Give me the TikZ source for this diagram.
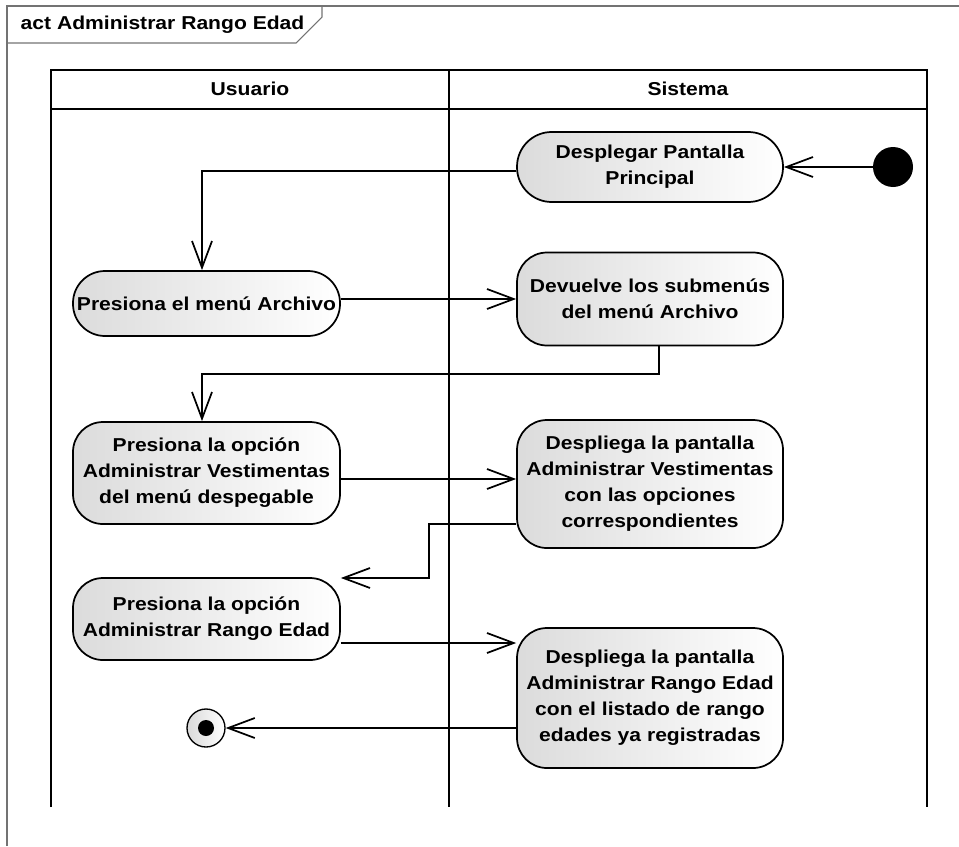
\documentclass[tikz,border=0pt]{standalone}
\usepackage{fontspec}
\setmainfont{Liberation Sans}[FakeStretch=1.13]
\usetikzlibrary{arrows.meta,calc}
\begin{document}
\begin{tikzpicture}[x=0.75pt,y=-0.75pt,
  every node/.style={font=\fontsize{14}{19.5}\selectfont\bfseries},
  act/.style={draw=black, line width=1.3pt, left color=black!14, right color=white, align=center, inner sep=0pt},
  lbox/.style={act, minimum width=200.25pt},
  rbox/.style={act, minimum width=199.5pt},
  flow/.style={draw=black, line width=1.3pt, -{Straight Barb[length=20pt,width=15pt,line width=1.3pt]}},
  lane/.style={draw=black, line width=1.6pt},
  frameline/.style={draw=black!55, line width=0.8pt}]
\useasboundingbox (0,0) rectangle (959,846);
% frame
\draw[frameline] (7,846) -- (7,6) -- (959,6);
\draw[frameline] (7,43) -- (296,43) -- (322,17) -- (322,6);
\node[anchor=west] (title) at (16,25) {act Administrar Rango Edad};
% lanes
\draw[lane] (51,807) -- (51,70) -- (927,70) -- (927,807);
\draw[lane] (51,109) -- (927,109);
\draw[lane] (449,70) -- (449,807);
\node (hU) at (250,89) {Usuario};
\node (hS) at (688,89) {Sistema};
% nodes
\node[circle, fill=black, minimum size=30pt, inner sep=0pt] (init) at (893,167) {};
\node[rbox, rounded corners=26pt, minimum height=52.5pt] (A) at (650,167) {Desplegar Pantalla\\Principal};
\node[lbox, rounded corners=24pt, minimum height=48.75pt] (B) at (206.5,303.5) {Presiona el menú Archivo};
\node[rbox, rounded corners=22.5pt, minimum height=69.75pt] (C) at (650,299) {Devuelve los submenús\\del menú Archivo};
\node[lbox, rounded corners=22.5pt, minimum height=76.5pt] (D) at (206.5,473) {Presiona la opción\\Administrar Vestimentas\\del menú despegable};
\node[rbox, rounded corners=22.5pt, minimum height=96pt] (E) at (650,484) {Despliega la pantalla\\Administrar Vestimentas\\con las opciones\\correspondientes};
\node[lbox, rounded corners=22.5pt, minimum height=61.5pt] (F) at (206.5,619) {Presiona la opción\\Administrar Rango Edad};
\node[rbox, rounded corners=22.5pt, minimum height=105pt] (G) at (650,698) {Despliega la pantalla\\Administrar Rango Edad\\con el listado de rango\\edades ya registradas};
\node[circle, draw=black, line width=1pt, left color=black!15, right color=white, minimum size=28.5pt, inner sep=0pt] (fin) at (206,728) {};
\node[circle, fill=black, minimum size=12pt, inner sep=0pt] (finc) at (fin) {};
% connectors
\coordinate (k4) at (202,374);
\coordinate (k6) at (429,578);
\draw[flow] (init) -- (A.east);
\draw[flow] ([yshift=-3pt]A.west) -| ([xshift=-3.375pt]B.north);
\draw[flow] (C.west -| B.east) -- (C.west);
\draw[flow] ([xshift=6.75pt]C.south) |- (k4) -- (k4 |- D.north);
\draw[flow] ([yshift=-4.5pt]D.east) -- ([yshift=-4.5pt]D.east -| E.west);
\draw[flow] ([yshift=-30pt]E.west) -| (k6) -- (k6 -| F.east);
\draw[flow] ([yshift=-18pt]F.east) -- ([yshift=-18pt]F.east -| G.west);
\draw[flow] ([yshift=-22.5pt]G.west) -- (fin.east);
\end{tikzpicture}
\end{document}
